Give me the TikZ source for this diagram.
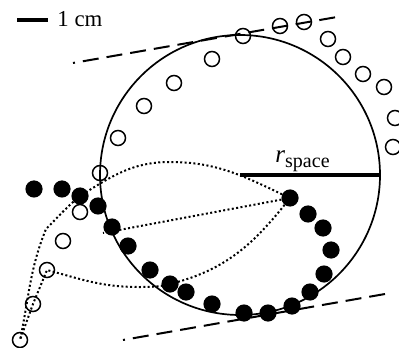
\documentclass[tikz,border=0pt]{standalone}
\usepackage{fontspec}
\setmainfont{Liberation Serif}
\tikzset{
  openpt/.style={circle,draw=black,line width=.75pt,fill=none,inner sep=0pt,minimum size=7.5pt},
  fullpt/.style={circle,fill=black,draw=none,inner sep=0pt,minimum size=8.6pt},
  rim/.style={draw=black,line width=.85pt},
  radline/.style={draw=black,line width=2pt},
  tanline/.style={draw=black,line width=1pt,dash pattern=on 8pt off 4pt,dash phase=7pt},
  traj/.style={draw=black,line width=1pt,dash pattern=on 1pt off 1.2pt},
  scalebar/.style={draw=black,line width=2.1pt},
  lbl/.style={font=\fontsize{11.4}{13}\selectfont,inner sep=0pt,anchor=base west},
}

\begin{document}
\begin{tikzpicture}[x=.5pt,y=.5pt]
  \useasboundingbox (0,0) rectangle (399,347);
  % scale bar
  \coordinate (sbl) at (17,327); \coordinate (sbr) at (48,327);
  \draw[scalebar] (sbl) -- (sbr);
  \node[lbl] (cm) at (57,320) {1 cm};
  % personal space
  \coordinate (ctr) at (240,172); \coordinate (rimpt) at (380,172);
  \draw[rim] (ctr) circle[radius=140];
  \draw[radline] (ctr) -- (rimpt);
  \node[lbl] (rsp) at (275,184)
    {\fontsize{12.5}{14}\selectfont\textit{r}\raisebox{-2.5pt}{\fontsize{10}{11}\selectfont space}};
  % tangent lines
  \coordinate (ta) at (73,284); \coordinate (tb) at (337,330);
  \coordinate (ba) at (123,7); \coordinate (bb) at (385,53);
  \draw[tanline] (ta) -- (tb); \draw[tanline] (ba) -- (bb);
  % open particles
  \node[openpt] (o1) at (100,174) {}; \node[openpt] (o2) at (118,209) {};
  \node[openpt] (o3) at (144,241) {}; \node[openpt] (o4) at (174,264) {};
  \node[openpt] (o5) at (212,288) {}; \node[openpt] (o6) at (243,311) {};
  \node[openpt] (o7) at (280,321) {}; \node[openpt] (o8) at (304,325) {};
  \node[openpt] (o9) at (328,308) {}; \node[openpt] (o10) at (343,290) {};
  \node[openpt] (o11) at (363,273) {}; \node[openpt] (o12) at (384,260) {};
  \node[openpt] (o13) at (395,229) {}; \node[openpt] (o14) at (393,200) {};
  \node[openpt] (o15) at (80,135) {}; \node[openpt] (o16) at (63,106) {};
  \node[openpt] (o17) at (47,77) {}; \node[openpt] (o18) at (33,43) {};
  \node[openpt] (o19) at (20,7) {};
  % filled particles
  \node[fullpt] (f1) at (34,158) {}; \node[fullpt] (f2) at (62,158) {};
  \node[fullpt] (f3) at (80,151) {}; \node[fullpt] (f4) at (98,141) {};
  \node[fullpt] (f5) at (112,120) {}; \node[fullpt] (f6) at (128,101) {};
  \node[fullpt] (f7) at (150,77) {}; \node[fullpt] (f8) at (170,63) {};
  \node[fullpt] (f9) at (186,55) {}; \node[fullpt] (f10) at (212,43) {};
  \node[fullpt] (f11) at (244,34) {}; \node[fullpt] (f12) at (268,34) {};
  \node[fullpt] (f13) at (292,41) {}; \node[fullpt] (f14) at (310,55) {};
  \node[fullpt] (f15) at (324,73) {}; \node[fullpt] (f16) at (331,97) {};
  \node[fullpt] (f17) at (323,119) {}; \node[fullpt] (f18) at (308,133) {};
  \node[fullpt] (f19) at (290,149) {};
  % trajectories
  \coordinate (peak) at (170,185); \coordinate (knee) at (46,118);
  \coordinate (tailB) at (103,114); \coordinate (lowC) at (138,60);
  \draw[traj] (f19.center) to[out=155,in=0] (peak) to[out=180,in=32] (f3.center)
    to[out=220,in=45] (knee) to[out=248,in=78] (o19.center);
  \draw[traj] (f19.center) -- (tailB);
  \draw[traj] (f19.center) to[out=232,in=14] (f8.center) to[out=194,in=0] (lowC)
    to[out=180,in=-15] (o17.center) -- (o18.center) -- (o19.center);
\end{tikzpicture}
\end{document}
